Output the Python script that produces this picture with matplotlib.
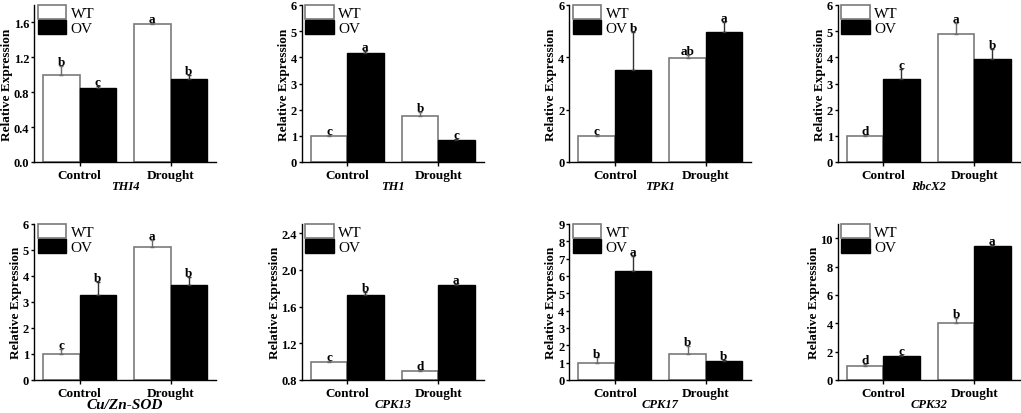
import numpy as np
import matplotlib
matplotlib.use("Agg")
import matplotlib.pyplot as plt

plt.rcParams['font.family'] = ['Liberation Serif', 'DejaVu Serif']
plt.rcParams['font.weight'] = 'bold'
plt.rcParams['axes.linewidth'] = 1.0

# --- DATA ---
groups = ['Control', 'Drought']
series = ['WT', 'OV']
genes = ['THI4', 'TH1', 'TPK1', 'RbcX2', 'Cu/Zn-SOD', 'CPK13', 'CPK17', 'CPK32']

wt_mean = [[1.0, 1.58], [1.0, 1.76], [1.0, 3.98], [1.0, 4.90],
           [1.0, 5.10], [1.0, 0.90], [1.0, 1.52], [1.0, 4.05]]
wt_err = [[0.10, 0.01], [0.03, 0.15], [0.05, 0.10], [0.02, 0.42],
          [0.18, 0.30], [0.005, 0.005], [0.30, 0.45], [0.15, 0.30]]
ov_mean = [[0.85, 0.95], [4.15, 0.85], [3.52, 4.98], [3.17, 3.95],
           [3.27, 3.66], [1.73, 1.83], [6.30, 1.08], [1.72, 9.47]]
ov_err = [[0.02, 0.05], [0.10, 0.03], [1.45, 0.36], [0.40, 0.38],
          [0.50, 0.30], [0.03, 0.02], [0.85, 0.10], [0.03, 0.03]]
wt_letters = [['b', 'a'], ['c', 'b'], ['c', 'ab'], ['d', 'a'],
              ['c', 'a'], ['c', 'd'], ['b', 'b'], ['d', 'b']]
ov_letters = [['c', 'b'], ['a', 'c'], ['b', 'a'], ['c', 'b'],
              ['b', 'b'], ['b', 'a'], ['a', 'b'], ['c', 'a']]

y_limits = [(0, 1.8), (0, 6), (0, 6), (0, 6), (0, 6), (0.8, 2.5), (0, 9), (0, 11)]
y_ticks = [np.arange(0, 1.61, 0.4), np.arange(0, 7, 1), np.arange(0, 7, 2),
           np.arange(0, 7, 1), np.arange(0, 7, 1), np.arange(0.8, 2.41, 0.4),
           np.arange(0, 10, 1), np.arange(0, 11, 2)]
tick_fmt = ['%.1f', '%d', '%d', '%d', '%d', '%.1f', '%d', '%d']

# --- LAYOUT ---
W, H = 1021, 414
lefts = [34, 301.7, 569.3, 837.7]
row_bottoms = [163, 381]
row_tops = [6, 225]
ax_w = 182

fig = plt.figure(figsize=(W / 100, H / 100), dpi=100)

bw = 0.4
x = np.arange(len(groups))

for i, gene in enumerate(genes):
    r, c = divmod(i, 4)
    left = lefts[c] / W
    bottom = 1 - row_bottoms[r] / H
    height = (row_bottoms[r] - row_tops[r]) / H
    ax = fig.add_axes([left, bottom, ax_w / W, height])

    base = y_limits[i][0]
    wt_h = np.array(wt_mean[i]) - base
    ov_h = np.array(ov_mean[i]) - base
    ax.bar(x - bw / 2, wt_h, bw, bottom=base, color='white',
           edgecolor='#7a7a7a', linewidth=1.2, label='WT', zorder=2)
    ax.bar(x + bw / 2, ov_h, bw, bottom=base, color='black',
           edgecolor='black', linewidth=1.0, label='OV', zorder=2)
    ax.errorbar(x - bw / 2, wt_mean[i], yerr=[np.zeros(2), wt_err[i]],
                fmt='none', ecolor='#6a6a6a', elinewidth=1.0, capsize=1.5, zorder=3)
    ax.errorbar(x + bw / 2, ov_mean[i], yerr=[np.zeros(2), ov_err[i]],
                fmt='none', ecolor='#333333', elinewidth=1.0, capsize=1.5, zorder=3)

    for j in range(len(groups)):
        ax.annotate(wt_letters[i][j], (x[j] - bw / 2, wt_mean[i][j] + wt_err[i][j]),
                    xytext=(0, -1.5), textcoords='offset points',
                    ha='center', va='bottom', fontsize=9.5, fontweight='bold')
        ax.annotate(ov_letters[i][j], (x[j] + bw / 2, ov_mean[i][j] + ov_err[i][j]),
                    xytext=(0, -1.5), textcoords='offset points',
                    ha='center', va='bottom', fontsize=9.5, fontweight='bold')

    ax.set_xlim(-0.5, 1.5)
    ax.set_ylim(*y_limits[i])
    ax.set_yticks(y_ticks[i])
    ax.set_yticklabels([tick_fmt[i] % v for v in y_ticks[i]])
    ax.set_xticks(x)
    ax.set_xticklabels(groups, fontsize=9.5, fontweight='bold')
    ax.tick_params(axis='y', labelsize=9, direction='out', length=2.5, width=1, pad=1)
    ax.tick_params(axis='x', direction='out', length=3, width=1, pad=2)
    ax.spines['top'].set_visible(False)
    ax.spines['right'].set_visible(False)

    ax.set_ylabel('Relative Expression', fontsize=9.5, fontweight='bold', labelpad=0.5)
    gsize = 11 if gene == 'Cu/Zn-SOD' else 9
    ax.set_xlabel(gene, fontsize=gsize, fontweight='bold', style='italic', labelpad=-1)

    ax.legend(loc='upper left', bbox_to_anchor=(0.02, 1.0), frameon=False,
              handlelength=1.85, handleheight=1.0,
              labelspacing=0.0, handletextpad=0.3, borderpad=0.0,
              borderaxespad=0.0, prop={'weight': 'normal', 'size': 11})

fig.savefig('out.png', dpi=100)
